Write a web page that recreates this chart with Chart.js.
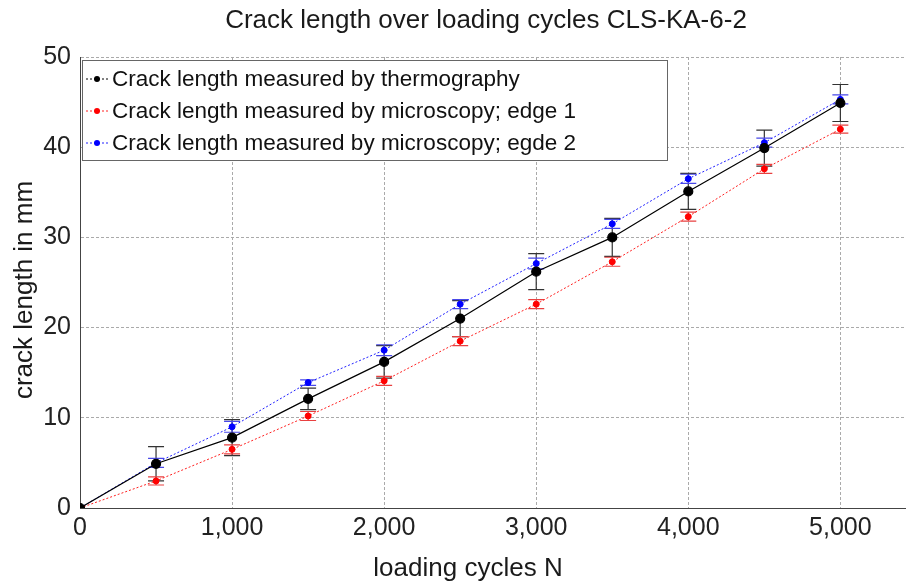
<!DOCTYPE html>
<html>
<head>
<meta charset="utf-8">
<script src="https://cdn.jsdelivr.net/npm/chart.js@4"></script>
<style>
  html, body { margin: 0; padding: 0; background: #fff; overflow: hidden; }
  #wrap { width: 906px; height: 586px; position: relative; overflow: hidden; }
</style>
</head>
<body>
<div id="wrap"><canvas id="crackChart" width="911" height="586"></canvas></div>
<script>
// data
const cycles = [0, 500, 1000, 1500, 2000, 2500, 3000, 3500, 4000, 4500, 5000]
const thermo = [0, 4.9, 7.8, 12.1, 16.2, 21.0, 26.2, 30.0, 35.1, 39.9, 44.9]
const thermoErr = [0, 1.9, 2.0, 1.2, 1.8, 2.0, 2.0, 2.1, 2.0, 2.0, 2.05]
const edge1 = [0, 3.0, 6.5, 10.2, 14.1, 18.5, 22.6, 27.3, 32.3, 37.6, 42.0]
const edge1Err = [0, 0.45, 0.5, 0.5, 0.5, 0.5, 0.5, 0.5, 0.5, 0.5, 0.45]
const edge2 = [0, 5.0, 9.0, 13.9, 17.5, 22.6, 27.1, 31.5, 36.5, 40.5, 45.3]
const edge2Err = [0, 0.5, 0.6, 0.3, 0.6, 0.5, 0.6, 0.5, 0.5, 0.5, 0.5]
const xTicks = [0, 1000, 2000, 3000, 4000, 5000]
const yTicks = [0, 10, 20, 30, 40, 50]
const xMax = 5427

const FONT = "'Liberation Sans', Arial, sans-serif"

function toPoints(vals){
    return cycles.map((c, i) => ({x: c, y: vals[i]}))
}

// vertical error bars, drawn through the chart scales
const errorBars = {
    id: "errorBars",
    beforeDatasetsDraw(chart){
        const ctx = chart.ctx
        const xs = chart.scales.x
        const ys = chart.scales.y
        chart.data.datasets.forEach(ds => {
            ctx.save()
            ctx.strokeStyle = ds.errColor
            ctx.lineWidth = 1.2
            ds.err.forEach((e, i) => {
                if (!e) return
                const px = xs.getPixelForValue(cycles[i])
                const top = ys.getPixelForValue(ds.vals[i] + e)
                const bot = ys.getPixelForValue(ds.vals[i] - e)
                ctx.beginPath()
                ctx.moveTo(px, top); ctx.lineTo(px, bot)
                ctx.moveTo(px - 8, top); ctx.lineTo(px + 8, top)
                ctx.moveTo(px - 8, bot); ctx.lineTo(px + 8, bot)
                ctx.stroke()
            })
            ctx.restore()
        })
    }
}

// legend box inside the plot, titles placed like the original
const boxLegend = {
    id: "boxLegend",
    afterDraw(chart){
        const ctx = chart.ctx
        const left = chart.chartArea.left + 2
        const top = chart.chartArea.top + 3
        ctx.save()
        ctx.fillStyle = "#fff"
        ctx.fillRect(left, top, 585, 100)
        ctx.strokeStyle = "#666"
        ctx.lineWidth = 1
        ctx.strokeRect(left + 0.5, top + 0.5, 585, 100)
        ctx.font = "22.5px " + FONT
        ctx.textBaseline = "middle"
        chart.data.datasets.forEach((ds, i) => {
            const y = top + 19 + i * 32
            ctx.strokeStyle = ds.borderColor
            ctx.lineWidth = 1
            ctx.setLineDash([2, 2])
            ctx.beginPath()
            ctx.moveTo(left + 4, y); ctx.lineTo(left + 27, y)
            ctx.stroke()
            ctx.setLineDash([])
            ctx.fillStyle = ds.pointBackgroundColor
            ctx.beginPath()
            ctx.arc(left + 15, y, 3, 0, Math.PI * 2)
            ctx.fill()
            ctx.fillStyle = "#111"
            ctx.fillText(ds.label, left + 30, y + 1)
        })

        ctx.fillStyle = "#1a1a1a"
        ctx.textAlign = "center"
        ctx.font = "26px " + FONT
        ctx.fillText("Crack length over loading cycles CLS-KA-6-2", 486, 21)
        ctx.fillText("loading cycles N", 468, 569)
        ctx.translate(25, 290)
        ctx.rotate(-Math.PI / 2)
        ctx.fillText("crack length in mm", 0, 0)
        ctx.restore()
    }
}

new Chart(document.getElementById("crackChart").getContext("2d"), {
    type: "line",
    data: {
        datasets: [{
            label: "Crack length measured by thermography",
            data: toPoints(thermo),
            vals: thermo, err: thermoErr, errColor: "#333",
            borderColor: "#000",
            borderWidth: 1.2,
            pointBackgroundColor: "#000",
            pointBorderColor: "#000",
            pointRadius: 4.5,
            order: 1
        }, {
            label: "Crack length measured by microscopy; edge 1",
            data: toPoints(edge1),
            vals: edge1, err: edge1Err, errColor: "#e84040",
            borderColor: "#ff2020",
            borderWidth: 1,
            borderDash: [2, 2],
            pointBackgroundColor: "#ff0000",
            pointBorderColor: "#ff0000",
            pointRadius: 3,
            order: 2
        }, {
            label: "Crack length measured by microscopy; egde 2",
            data: toPoints(edge2),
            vals: edge2, err: edge2Err, errColor: "#4848e8",
            borderColor: "#2020ff",
            borderWidth: 1,
            borderDash: [2, 2],
            pointBackgroundColor: "#0000ff",
            pointBorderColor: "#0000ff",
            pointRadius: 3,
            order: 3
        }]
    },
    options: {
        responsive: false,
        animation: false,
        layout: { padding: { top: 57, right: 0, left: 0, bottom: 0 } },
        plugins: {
            legend: { display: false },
            tooltip: { enabled: false },
            title: { display: false }
        },
        scales: {
            x: {
                type: "linear",
                min: 0,
                max: xMax,
                afterFit: s => { s.height = 78; s.paddingRight = 0 },
                afterBuildTicks: s => { s.ticks = xTicks.map(v => ({value: v})).concat([{value: xMax}]) },
                ticks: {
                    color: "#222",
                    font: { family: FONT, size: 25 },
                    padding: 5,
                    maxRotation: 0,
                    autoSkip: false,
                    callback: v => xTicks.includes(v) ? v.toLocaleString("en-US") : ""
                },
                grid: {
                    color: c => c.tick && c.tick.value === xMax ? "rgba(0,0,0,0)" : "#aaa",
                    drawTicks: false
                },
                border: { display: true, color: "#444", dash: [3, 2] },
                title: { display: false }
            },
            y: {
                min: 0,
                max: 50,
                afterFit: s => { s.width = 80 },
                afterBuildTicks: s => { s.ticks = yTicks.map(v => ({value: v})) },
                ticks: {
                    color: "#222",
                    font: { family: FONT, size: 25 },
                    padding: 9
                },
                grid: { color: "#aaa", drawTicks: false },
                border: { display: true, color: "#444", dash: [3, 2] },
                title: { display: false }
            }
        }
    },
    plugins: [errorBars, boxLegend]
})
</script>
</body>
</html>
